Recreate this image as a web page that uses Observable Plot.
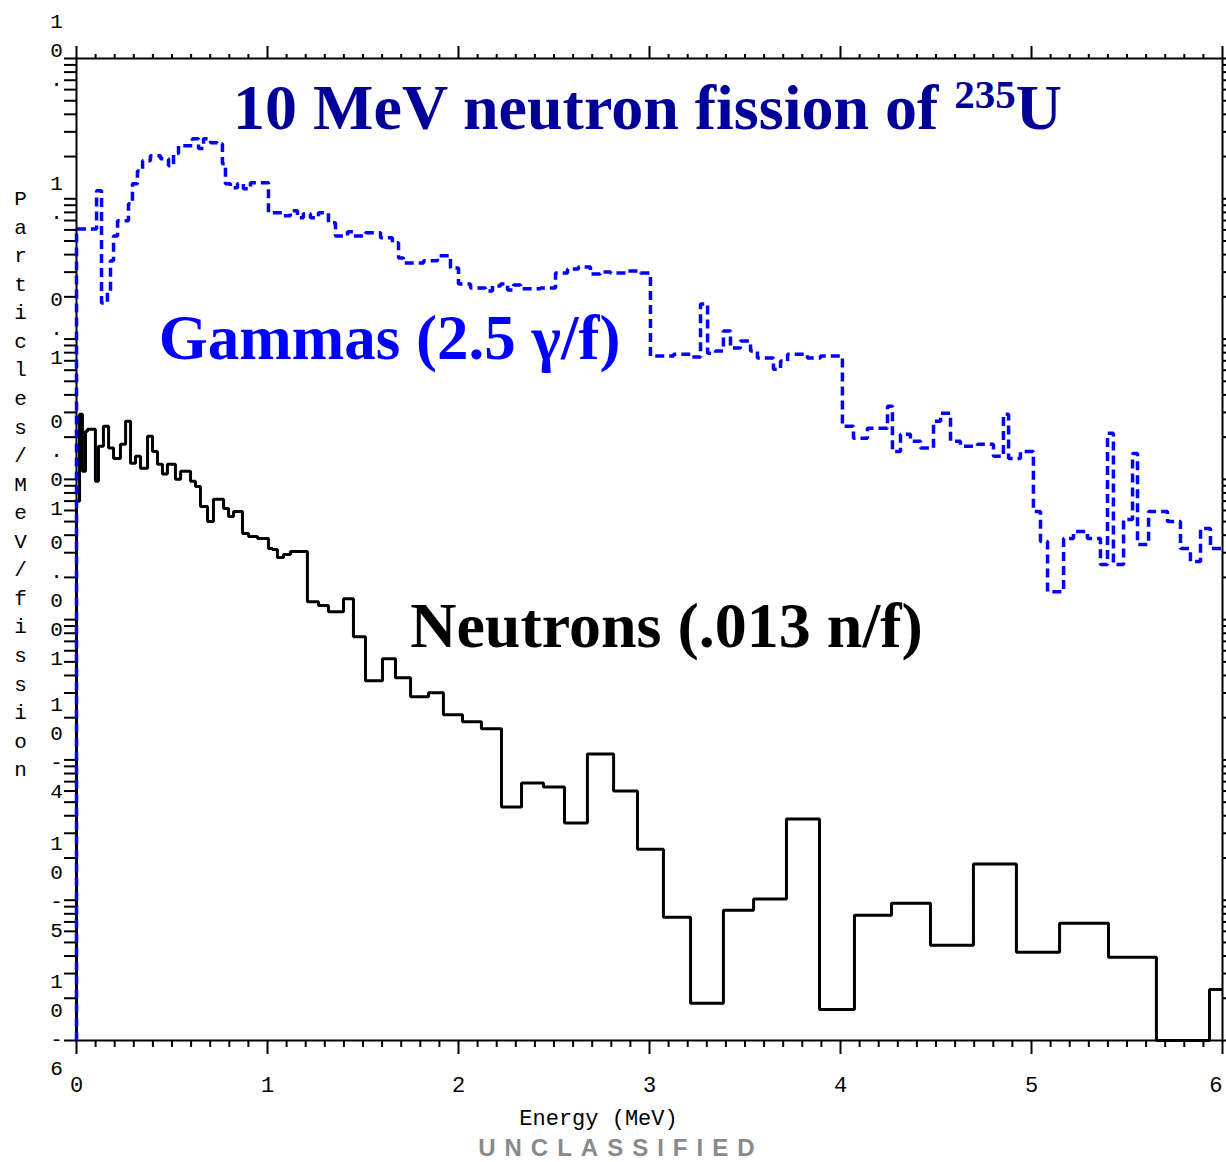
<!DOCTYPE html>
<html><head><meta charset="utf-8">
<script src="https://cdn.jsdelivr.net/npm/d3@7"></script>
<script src="https://cdn.jsdelivr.net/npm/@observablehq/plot@0.6"></script>
<style>html,body{margin:0;padding:0;background:#fff;overflow:hidden}</style>
</head><body><div id="chart"></div>
<script>
// ---- data (bin left edges in MeV, values in particles/MeV/fission) ----
const neutronEdges = [0, 0.016, 0.031, 0.047, 0.058, 0.099, 0.115, 0.141, 0.168, 0.194,
 0.230, 0.257, 0.283, 0.309, 0.335, 0.372, 0.398, 0.424, 0.450, 0.476,
 0.518, 0.545, 0.597, 0.623, 0.649, 0.686, 0.717, 0.770, 0.796, 0.822,
 0.869, 0.901, 0.948, 1.005, 1.026, 1.052, 1.084, 1.120, 1.209, 1.267,
 1.319, 1.398, 1.450, 1.513, 1.602, 1.670, 1.749, 1.843, 1.921, 2.021,
 2.120, 2.225, 2.330, 2.445, 2.555, 2.675, 2.812, 2.937, 3.073, 3.215,
 3.387, 3.545, 3.717, 3.890, 4.073, 4.267, 4.471, 4.696, 4.921, 5.147,
 5.403, 5.654, 5.932];
const neutronValues = [0.00697, 0.0291, 0.0114, 0.0220, 0.0228, 0.00968, 0.0172, 0.0239, 0.0167, 0.0141,
 0.0178, 0.0260, 0.0130, 0.0146, 0.0120, 0.0203, 0.0158, 0.0128, 0.0109, 0.0128,
 0.0100, 0.0114, 0.00968, 0.00891, 0.00641, 0.00501, 0.00720, 0.00621, 0.00544, 0.00591,
 0.00411, 0.00392, 0.00379, 0.00321, 0.00316, 0.00277, 0.00291, 0.00306, 0.00134, 0.00126,
 0.00114, 0.00141, 0.000756, 0.000367, 0.000527, 0.000385, 0.000282, 0.000301, 0.000210, 0.000187,
 0.000167, 0.0000461, 0.0000685, 0.0000641, 0.0000355, 0.000110, 0.0000601, 0.0000231, 0.00000756, 0.00000184,
 0.00000849, 0.0000102, 0.0000379, 0.00000166, 0.00000782, 0.00000952, 0.00000477, 0.0000181, 0.00000425, 0.00000685,
 0.00000392, 0, 0.00000231];

const gammaEdges = [0, 0.031, 0.105, 0.131, 0.162, 0.178, 0.194, 0.215, 0.272, 0.293,
 0.319, 0.346, 0.387, 0.440, 0.482, 0.508, 0.534, 0.607, 0.639, 0.665,
 0.702, 0.738, 0.764, 0.780, 0.806, 0.843, 0.874, 0.911, 0.948, 1.005,
 1.084, 1.120, 1.157, 1.188, 1.225, 1.267, 1.319, 1.356, 1.419, 1.450,
 1.513, 1.592, 1.654, 1.686, 1.712, 1.817, 1.890, 1.958, 2.000, 2.063,
 2.141, 2.178, 2.220, 2.257, 2.288, 2.325, 2.429, 2.508, 2.571, 2.628,
 2.691, 2.743, 2.796, 2.885, 2.953, 3.005, 3.126, 3.215, 3.267, 3.304,
 3.346, 3.387, 3.424, 3.476, 3.529, 3.565, 3.649, 3.686, 3.723, 3.827,
 3.895, 4.010, 4.068, 4.141, 4.246, 4.272, 4.314, 4.366, 4.419, 4.487,
 4.524, 4.576, 4.628, 4.717, 4.801, 4.853, 4.880, 4.942, 5.010, 5.047,
 5.084, 5.115, 5.168, 5.220, 5.293, 5.361, 5.398, 5.429, 5.482, 5.529,
 5.555, 5.613, 5.712, 5.780, 5.832, 5.885, 5.937];
const gammaValues = [0.61, 0.61, 1.14, 0.181, 0.22, 0.361, 0.544, 0.696, 0.921, 1.28,
 1.58, 1.87, 2.03, 1.93, 1.72, 2.10, 2.39, 2.68, 2.28, 2.68,
 2.51, 2.47, 1.78, 1.28, 1.20, 1.28, 1.18, 1.30, 1.30, 0.794,
 0.756, 0.821, 0.732, 0.781, 0.732, 0.794, 0.674, 0.544, 0.581, 0.544,
 0.572, 0.527, 0.485, 0.379, 0.349, 0.361, 0.392, 0.321, 0.247, 0.231,
 0.220, 0.239, 0.247, 0.224, 0.243, 0.228, 0.231, 0.296, 0.316, 0.327,
 0.291, 0.301, 0.296, 0.306, 0.296, 0.0756, 0.0781, 0.0744, 0.178, 0.0794,
 0.0821, 0.114, 0.0862, 0.0968, 0.0821, 0.0732, 0.061, 0.0697, 0.0781, 0.0732,
 0.0756, 0.0239, 0.0196, 0.0231, 0.0332, 0.0158, 0.021, 0.0187, 0.0167, 0.026,
 0.0296, 0.0187, 0.0172, 0.0178, 0.0146, 0.0291, 0.0141, 0.0158, 0.00591, 0.00361,
 0.00158, 0.00158, 0.00379, 0.00425, 0.00379, 0.00247, 0.0213, 0.00247, 0.00518, 0.0153,
 0.00343, 0.00591, 0.00501, 0.00321, 0.0026, 0.00447, 0.00321];

const energyMax = 6;
const xMajorTicks = [0, 1, 2, 3, 4, 5];
const xLastTick = [6];
const yDecades = [10, 1, 0.1, 0.01, 0.001, 1e-4, 1e-5, 1e-6];
const yTickLabels = ["1\n0\n.", "1\n.", "0\n.\n1", "0\n.\n0\n1", "0\n.\n0\n0\n1", "1\n0\n-\n4", "1\n0\n-\n5", "1\n0\n-\n6"];
const yAxisTitle = "Particles/MeV/fission";
const xAxisTitle = "Energy (MeV)";
const footer = "UNCLASSIFIED";
const titleText = "10 MeV neutron fission of 235U";
const gammaLabel = "Gammas (2.5 \u03b3/f)";
const neutronLabel = "Neutrons (.013 n/f)";

// ---- layout / style (not data) ----
const yLabelShift = [-11, -4, -13, -17, -22, -15, -16, -18];
const FLOOR = 1e-6;
const mono = "Liberation Mono, DejaVu Sans Mono, monospace";
const serif = "Liberation Serif, Times New Roman, serif";
const blank = () => "";

function steps(edges, values, end) {
  const pts = [{E: edges[0], v: FLOOR}];
  edges.forEach((e, i) => pts.push({E: e, v: values[i] > 0 ? values[i] : FLOOR}));
  const last = values[values.length - 1];
  pts.push({E: end, v: last > 0 ? last : FLOOR});
  return pts;
}
const neutronData = steps(neutronEdges, neutronValues, energyMax);
const gammaData = steps(gammaEdges, gammaValues, energyMax);

const xMinor = d3.range(0, 61).map(i => i / 10).filter(v => Math.abs(v - Math.round(v)) > 1e-9);
const yMinor = [];
for (let k = -6; k <= 0; k++) for (let m = 2; m <= 9; m++) yMinor.push(m * Math.pow(10, k));
const yAllTicks = yDecades.concat(yMinor);

const marks = [
  Plot.frame({stroke: "black", strokeWidth: 2}),
  Plot.axisX({anchor: "bottom", ticks: xMajorTicks, tickSize: 14, tickPadding: 22, strokeWidth: 2,
    tickFormat: d => String(d), fontSize: 22, fontFamily: mono, label: null}),
  Plot.axisX({anchor: "bottom", ticks: xLastTick, tickSize: 14, tickPadding: 22, strokeWidth: 2,
    tickFormat: d => String(d), textAnchor: "end", fontSize: 22, fontFamily: mono, label: null}),
  Plot.axisX({anchor: "bottom", ticks: xMinor, tickSize: 7, strokeWidth: 2, tickFormat: blank, label: null}),
  Plot.axisX({anchor: "top", ticks: xMajorTicks.concat(xLastTick), tickSize: 13, strokeWidth: 2, tickFormat: blank, label: null}),
  Plot.axisX({anchor: "top", ticks: xMinor, tickSize: 5, strokeWidth: 2, tickFormat: blank, label: null}),
  Plot.axisY({anchor: "left", ticks: yAllTicks, tickSize: 12, strokeWidth: 2, tickFormat: blank, label: null}),
  Plot.axisY({anchor: "right", ticks: yAllTicks, tickSize: 4, strokeWidth: 2, tickFormat: blank, label: null}),
  ...yDecades.map((v, i) => Plot.text([v], {y: d => d, text: () => yTickLabels[i], frameAnchor: "left",
    dx: -20, dy: yLabelShift[i], textAnchor: "middle", lineAnchor: "middle", lineHeight: 1.38,
    fontSize: 21, fontFamily: mono, fill: "black"})),
  Plot.text([yAxisTitle], {frameAnchor: "left", text: d => d.split("").join("\n"), dx: -56, dy: -68,
    textAnchor: "middle", lineAnchor: "middle", lineHeight: 1.36, fontSize: 21, fontFamily: mono, fill: "black"}),
  Plot.text([xAxisTitle], {frameAnchor: "bottom", x: () => 2.733, text: d => d, dy: 77,
    lineAnchor: "middle", fontSize: 22, fontFamily: mono, fill: "black"}),
  Plot.text([footer], {frameAnchor: "bottom", x: () => 2.85, text: d => d, dy: 108,
    lineAnchor: "middle", fontSize: 24, fontWeight: "bold", fontFamily: "Liberation Sans, Arial, sans-serif", fill: "#8a8a8a"}),
  Plot.line(neutronData, {x: "E", y: "v", curve: "step-after", stroke: "black", strokeWidth: 3,
    strokeLinecap: "butt", strokeLinejoin: "miter"}),
  Plot.line(gammaData, {x: "E", y: "v", curve: "step-after", stroke: "#0000ff", strokeWidth: 3.5,
    strokeDasharray: "9,5", strokeLinecap: "butt", strokeLinejoin: "miter"}),
  Plot.text([titleText], {x: () => 2.99, y: () => 3.16, text: d => d, lineAnchor: "bottom",
    fontSize: 64, fontWeight: "bold", fontFamily: serif, fill: "#000099"}),
  Plot.text([gammaLabel], {x: () => 1.639, y: () => 0.072, text: d => d, lineAnchor: "bottom",
    fontSize: 63, fontWeight: "bold", fontFamily: serif, fill: "#0000ff"}),
  Plot.text([neutronLabel], {x: () => 3.089, y: () => 0.000641, text: d => d, lineAnchor: "bottom",
    fontSize: 64, fontWeight: "bold", fontFamily: serif, fill: "black"})
];

const chart = Plot.plot({
  width: 1226, height: 1162,
  marginLeft: 76, marginRight: 4, marginTop: 58, marginBottom: 122,
  x: {domain: [0, energyMax], axis: null},
  y: {type: "log", domain: [FLOOR, 10], axis: null},
  style: {background: "white", color: "black", fontFamily: mono, fontSize: "20px", overflow: "visible"},
  marks
});
document.getElementById("chart").appendChild(chart);

// superscript mass number in title, letter-spacing in footer, drop empty tick texts
d3.select(chart).selectAll("text").each(function () {
  if (this.textContent === titleText) {
    const el = d3.select(this);
    el.text(null);
    el.append("tspan").text("10 MeV neutron fission of ");
    el.append("tspan").attr("font-size", "41px").attr("dy", "-21px").text("235");
    el.append("tspan").attr("dy", "21px").text("U");
  } else if (this.textContent === footer) {
    this.style.letterSpacing = "9px";
  } else if (this.textContent === "") {
    this.remove();
  }
});
</script>
</body></html>
